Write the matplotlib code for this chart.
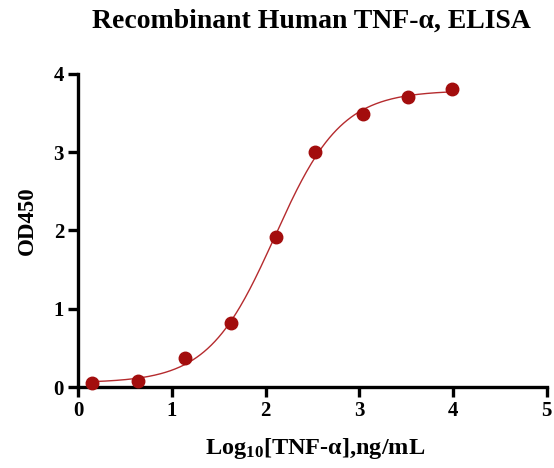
import numpy as np
import matplotlib
matplotlib.use("Agg")
import matplotlib.pyplot as plt

# data
log_conc = [0.15, 0.64, 1.14, 1.63, 2.11, 2.53, 3.04, 3.52, 3.99]
od450 = [0.055, 0.077, 0.367, 0.815, 1.92, 3.00, 3.49, 3.70, 3.81]

x_ticks = [0, 1, 2, 3, 4, 5]
y_ticks = [0, 1, 2, 3, 4]

plt.rcParams["font.family"] = ["Liberation Serif", "DejaVu Serif"]
plt.rcParams["font.weight"] = "bold"
plt.rcParams["mathtext.fontset"] = "custom"
plt.rcParams["mathtext.rm"] = "Liberation Serif:bold"
plt.rcParams["mathtext.bf"] = "Liberation Serif:bold"
plt.rcParams["mathtext.it"] = "Liberation Serif:bold"


def four_pl(x, p):
    bottom, top, logec50, hill = p
    return bottom + (top - bottom) / (1.0 + 10 ** ((logec50 - x) * hill))


def fit_four_pl(x, y, p0, iters=200):
    # simple Levenberg-Marquardt fit of the 4PL model
    p = np.array(p0, dtype=float)
    lam = 1e-3
    for _ in range(iters):
        r = y - four_pl(x, p)
        J = np.zeros((len(x), len(p)))
        for k in range(len(p)):
            dp = np.zeros_like(p)
            dp[k] = 1e-6
            J[:, k] = (four_pl(x, p + dp) - four_pl(x, p - dp)) / 2e-6
        A = J.T @ J
        g = J.T @ r
        step = np.linalg.solve(A + lam * np.diag(np.diag(A)), g)
        p_new = p + step
        if np.sum((y - four_pl(x, p_new)) ** 2) < np.sum(r ** 2):
            p = p_new
            lam *= 0.5
        else:
            lam *= 4
    return p


x = np.array(log_conc)
y = np.array(od450)
params = fit_four_pl(x, y, [0.05, 3.85, 2.1, 1.3])
xs = np.linspace(x.min(), x.max(), 300)

fig = plt.figure(figsize=(5.54, 4.68), dpi=100)
ax = fig.add_axes([0.1408, 0.173, 0.8462, 0.669])

ax.plot(xs, four_pl(xs, params), color="#b52b2e", linewidth=1.0, zorder=2)
ax.plot(x, y, "o", color="#a30d0d", markersize=9, zorder=3, clip_on=False)

ax.set_xlim(0, 5)
ax.set_ylim(0, 4)
ax.set_xticks(x_ticks)
ax.set_yticks(y_ticks)
ax.spines["top"].set_visible(False)
ax.spines["right"].set_visible(False)
ax.spines["left"].set_linewidth(2.4)
ax.spines["bottom"].set_linewidth(2.4)
ax.tick_params(width=2.4, length=7, labelsize=15, pad=3)
for lab in ax.get_xticklabels() + ax.get_yticklabels():
    lab.set_fontweight("bold")

fig.text(311 / 554, 1 - 28 / 468, "Recombinant Human TNF-α, ELISA",
         fontsize=20, fontweight="bold", ha="center", va="baseline")
fig.text(315 / 554, 1 - 454 / 468, r"Log$_{10}$[TNF-α],ng/mL",
         fontsize=17.5, fontweight="bold", ha="center", va="baseline")
fig.text(27 / 554, 1 - 221 / 468, "OD450", rotation=90,
         fontsize=16.5, fontweight="bold", ha="center", va="center")

fig.savefig("out.png", dpi=100)
plt.close(fig)
